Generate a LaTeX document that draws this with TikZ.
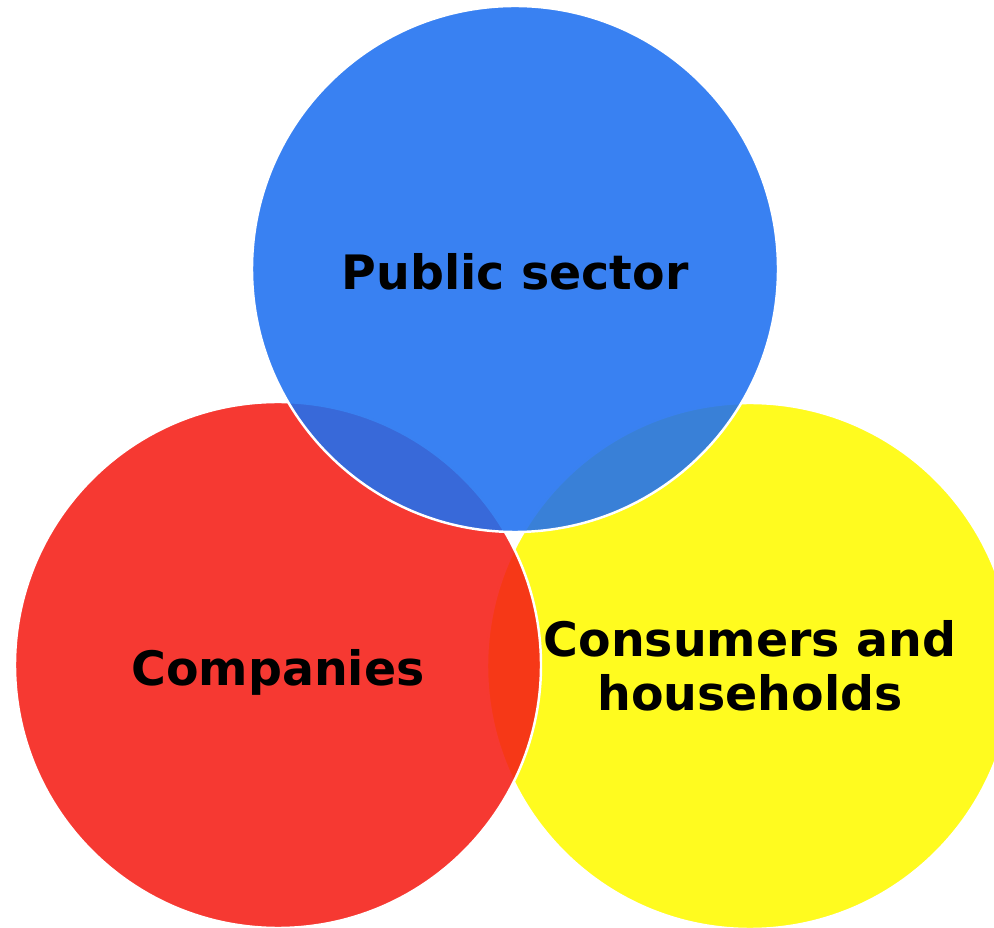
\documentclass[tikz,border=0pt]{standalone}
\usepackage{fontspec}
\setmainfont{DejaVu Sans}
\definecolor{pubblue}{RGB}{30,112,240}
\definecolor{comred}{RGB}{245,30,22}
\definecolor{conyellow}{RGB}{255,250,0}
\begin{document}
\begin{tikzpicture}[x=.02cm,y=-.02cm,
		disc/.style={draw=white,line width=1.4pt,fill opacity=.88},
		lab/.style={font=\fontsize{27}{30.7}\selectfont\bfseries,align=center,text=black,inner sep=0pt}]
		\useasboundingbox (0,0) rectangle (994,928);
		\clip (0,0) rectangle (994,928);
		\coordinate (P) at (515,269);
		\coordinate (C) at (278,665);
		\coordinate (H) at (750,666);
		% yellow below, then red, blue on top
		\filldraw[disc,fill=conyellow] (H) circle (263);
		\filldraw[disc,fill=comred] (C) circle (263);
		\filldraw[disc,fill=pubblue] (P) circle (263);
		\node[lab,anchor=base] (pub) at (515,290) {Public sector};
		\node[lab,anchor=base] (comp) at (278,685) {Companies};
		\node[lab] (cons) at (H) {Consumers and\\households};
	\end{tikzpicture}
\end{document}
